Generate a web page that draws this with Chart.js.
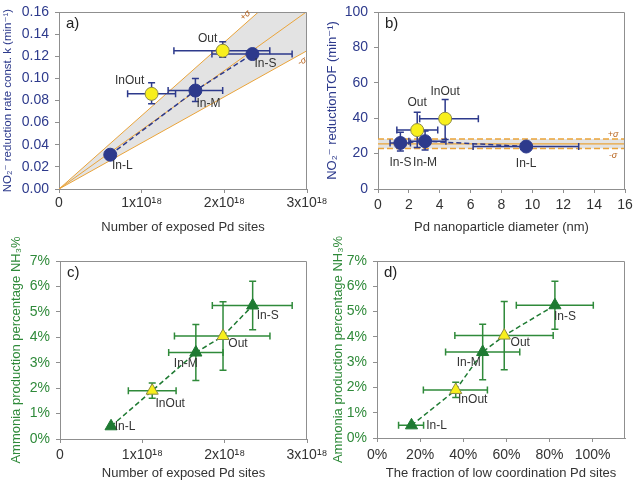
<!DOCTYPE html>
<html>
<head>
<meta charset="utf-8">
<script src="https://cdn.jsdelivr.net/npm/chart.js@4.4.1/dist/chart.umd.min.js"></script>
<style>
  body { margin: 0; background: #fff; }
  #wrap { position: relative; width: 633px; height: 483px; }
  canvas { position: absolute; left: 0; top: 0; }
</style>
</head>
<body>
<div id="wrap">
  <canvas id="chartA" width="633" height="483"></canvas>
  <canvas id="chartB" width="633" height="483"></canvas>
  <canvas id="chartC" width="633" height="483"></canvas>
  <canvas id="chartD" width="633" height="483"></canvas>
</div>
<script>
// samples, in order of exposed Pd sites
const samples = ["In-L", "InOut", "In-M", "Out", "In-S"];
const isYellow = [false, true, false, true, false];

// number of exposed Pd sites (x10^18)
const sites = [0.62, 1.12, 1.65, 1.98, 2.34];
const sitesLo = [null, 0.83, 1.32, 1.39, 1.85];
const sitesHi = [null, 1.41, 1.98, 2.55, 2.82];

// a) NO2- reduction rate constant k (min-1)
const rateK = [0.031, 0.086, 0.089, 0.125, 0.122];
const rateKLo = [null, 0.077, 0.079, 0.119, null];
const rateKHi = [null, 0.096, 0.1, 0.133, null];
// linear fits through the origin (mean, +sigma, -sigma)
const fitX = [0, 3];
const fitMid = [0, 0.1605];
const fitUp = [0, 0.199];
const fitLow = [0, 0.125];

// b) TOF vs Pd particle diameter (nm)
const diam = [9.6, 4.35, 3.05, 2.54, 1.45];
const diamLo = [6.16, 2.7, 2.0, 1.22, 0.78];
const diamHi = [13.0, 6.5, 4.4, 3.87, 2.1];
const tof = [24, 39.7, 27, 33.3, 26];
const tofLo = [null, 28, 22, 23.5, 21.4];
const tofHi = [null, 50.6, 32.7, 43.3, 32];
const bandX = [0, 16];
const tofMean = [25.5, 25.5];
const tofUp = [28.2, 28.2];
const tofLow = [22.9, 22.9];

// c/d) ammonia production percentage NH3 (%)
const nh3 = [0.5, 1.9, 3.4, 4.05, 5.25];
const nh3Lo = [null, 1.6, 2.3, 2.7, 4.3];
const nh3Hi = [null, 2.2, 4.5, 5.4, 6.2];

// d) fraction of low coordination Pd sites (%)
const lowCoord = [16, 36.5, 49, 59, 82.5];
const lowCoordLo = [10, 21.5, 31.8, 36.1, 64.6];
const lowCoordHi = [21.6, 51.2, 66.2, 81.7, 100.3];

const FONT = "'Liberation Sans', Arial, 'DejaVu Sans', sans-serif";
const NAVY = "#2d3a8c";
const GREEN = "#2f8a3a";
const DKGREEN = "#1e7a32";
const YELLOW = "#f8ef1c";
const ORANGE = "#eaa43a";
const FRAME = "#8f8f8f";
const TEXT = "#333333";

function pts(xs, ys, keep) {
  const out = [];
  xs.forEach((x, i) => { if (!keep || keep(i)) out.push({ x: x, y: ys[i] }); });
  return out.sort((a, b) => a.x - b.x);
}

function bars(xs, ys, xLo, xHi, yLo, yHi) {
  return xs.map((x, i) => ({ x: x, y: ys[i], xLo: xLo[i], xHi: xHi[i], yLo: yLo[i], yHi: yHi[i] }));
}

function axis(o) {
  return {
    type: "linear",
    position: o.position,
    min: o.min,
    max: o.max,
    afterFit(s) {
      if (o.position === "left") s.width = o.size; else s.height = o.size;
      s.paddingLeft = 0; s.paddingRight = 0; s.paddingTop = 0; s.paddingBottom = 0;
    },
    grid: { display: true, drawOnChartArea: false, drawTicks: true, tickLength: 4, color: FRAME },
    border: { display: true, color: FRAME, width: 1 },
    ticks: {
      stepSize: o.step,
      padding: o.tickPad,
      color: o.tickColor,
      font: { family: FONT, size: 14 },
      callback: o.fmt,
      maxRotation: 0,
      autoSkip: false,
      includeBounds: o.includeBounds !== false
    },
    title: { display: true, text: o.title, color: o.titleColor, font: { family: FONT, size: o.titleSize || 13 }, padding: o.titlePad }
  };
}

function drawErrorBars(chart, list, color) {
  const { ctx, scales: { x, y } } = chart;
  const cap = 3.5;
  ctx.save();
  ctx.strokeStyle = color;
  ctx.lineWidth = 1.5;
  list.forEach(b => {
    const px = x.getPixelForValue(b.x), py = y.getPixelForValue(b.y);
    ctx.beginPath();
    if (b.xLo != null) {
      const l = x.getPixelForValue(b.xLo), r = x.getPixelForValue(b.xHi);
      ctx.moveTo(l, py); ctx.lineTo(r, py);
      ctx.moveTo(l, py - cap); ctx.lineTo(l, py + cap);
      ctx.moveTo(r, py - cap); ctx.lineTo(r, py + cap);
    }
    if (b.yLo != null) {
      const t = y.getPixelForValue(b.yHi), d = y.getPixelForValue(b.yLo);
      ctx.moveTo(px, t); ctx.lineTo(px, d);
      ctx.moveTo(px - cap, t); ctx.lineTo(px + cap, t);
      ctx.moveTo(px - cap, d); ctx.lineTo(px + cap, d);
    }
    ctx.stroke();
  });
  ctx.restore();
}

function extrasPlugin(p) {
  return {
    id: "panelExtras",
    beforeDatasetDraw(chart, args) {
      if (args.index === 1) drawErrorBars(chart, p.err, p.errColor);
    },
    afterDatasetsDraw(chart) {
      const { ctx, chartArea: a, scales: { x, y } } = chart;
      ctx.save();
      // top and right frame
      ctx.strokeStyle = FRAME;
      ctx.lineWidth = 1;
      ctx.beginPath();
      ctx.moveTo(Math.round(a.left) + 0.5, Math.round(a.top) + 0.5);
      ctx.lineTo(Math.round(a.right) - 0.5, Math.round(a.top) + 0.5);
      ctx.lineTo(Math.round(a.right) - 0.5, Math.round(a.bottom) + 0.5);
      ctx.stroke();
      // panel letter
      ctx.fillStyle = "#222";
      ctx.font = "15px " + FONT;
      ctx.textAlign = "left";
      ctx.textBaseline = "middle";
      ctx.fillText(p.letter, a.left + 7, a.top + 12);
      // sample labels
      ctx.fillStyle = TEXT;
      ctx.font = "12px " + FONT;
      ctx.textAlign = "center";
      p.err.forEach((b, i) => {
        const off = p.labelOffsets[i];
        ctx.fillText(samples[i], x.getPixelForValue(b.x) + off[0], y.getPixelForValue(b.y) + off[1]);
      });
      if (p.extra) p.extra(chart, ctx);
      ctx.restore();
    }
  };
}

function sigmaText(ctx, text, px, py, angle) {
  ctx.save();
  ctx.translate(px, py);
  ctx.rotate(angle);
  ctx.fillStyle = "#b8641e";
  ctx.font = "italic 9px " + FONT;
  ctx.textAlign = "center";
  ctx.textBaseline = "middle";
  ctx.fillText(text, 0, 0);
  ctx.restore();
}

function markerSets(xs, ys, style, dark, darkBorder) {
  return [
    {
      data: pts(xs, ys, i => !isYellow[i]),
      pointStyle: style, pointRadius: style === "circle" ? 6.5 : 7,
      backgroundColor: dark, borderColor: darkBorder, borderWidth: 1
    },
    {
      data: pts(xs, ys, i => isYellow[i]),
      pointStyle: style, pointRadius: style === "circle" ? 6.5 : 7,
      backgroundColor: YELLOW, borderColor: "#8d8a45", borderWidth: 1
    }
  ];
}

function lineSet(xs, ys, color, width, dash, extra) {
  return Object.assign({
    type: "line", data: pts(xs, ys), borderColor: color, borderWidth: width,
    borderDash: dash, pointRadius: 0, fill: false, tension: 0
  }, extra || {});
}

function baseOptions(padding, xAxis, yAxis) {
  return {
    responsive: false,
    animation: false,
    events: [],
    layout: { padding: padding },
    plugins: { legend: { display: false }, tooltip: { enabled: false }, filler: { drawTime: "beforeDatasetsDraw" } },
    scales: { x: xAxis, y: yAxis }
  };
}

const sitesFmt = v => v === 0 ? "0" : v + "x10\u00b9\u2078";

// ---------- a) ----------
new Chart(document.getElementById("chartA"), {
  type: "scatter",
  data: {
    datasets: [
      ...markerSets(sites, rateK, "circle", NAVY, NAVY),
      lineSet(sites.filter((v, i) => !isYellow[i]), rateK.filter((v, i) => !isYellow[i]), NAVY, 1.5, [5, 3]),
      lineSet(fitX, fitMid, ORANGE, 1, []),
      lineSet(fitX, fitUp, ORANGE, 1, [], { fill: "+1", backgroundColor: "#e3e3e3" }),
      lineSet(fitX, fitLow, ORANGE, 1, [])
    ]
  },
  options: baseOptions({ left: 0, top: 12, right: 326, bottom: 244 },
    axis({ position: "bottom", min: 0, max: 3, step: 1, size: 50, tickPad: 2, tickColor: TEXT, fmt: sitesFmt,
      title: "Number of exposed Pd sites", titleColor: TEXT, titlePad: { top: 2, bottom: 4 } }),
    axis({ position: "left", min: 0, max: 0.16, step: 0.02, size: 59, tickPad: 6, tickColor: NAVY, fmt: v => v.toFixed(2),
      title: "NO\u2082\u207b reduction rate const. k (min\u207b\u00b9)", titleColor: NAVY, titleSize: 11.5,
      titlePad: { top: 1, bottom: 0 } })),
  plugins: [extrasPlugin({
    letter: "a)",
    err: bars(sites, rateK, sitesLo, sitesHi, rateKLo, rateKHi),
    errColor: NAVY,
    labelOffsets: [[12, 11], [-22, -13], [13, 13], [-15, -12], [13, 10]],
    extra(chart, ctx) {
      const { x, y } = chart.scales;
      const up = fitUp[1] / fitX[1], low = fitLow[1] / fitX[1];
      const yu = y.max * 0.97;
      sigmaText(ctx, "+\u03c3", x.getPixelForValue(yu / up) - 7, y.getPixelForValue(yu) - 2, -0.73);
      const xl = x.max * 0.98;
      sigmaText(ctx, "-\u03c3", x.getPixelForValue(xl), y.getPixelForValue(xl * low) + 8, -0.5);
    }
  })]
});

// ---------- b) ----------
new Chart(document.getElementById("chartB"), {
  type: "scatter",
  data: {
    datasets: [
      ...markerSets(diam, tof, "circle", NAVY, NAVY),
      lineSet(diam.filter((v, i) => !isYellow[i]), tof.filter((v, i) => !isYellow[i]), NAVY, 1.5, [5, 3]),
      lineSet(bandX, tofMean, ORANGE, 1.2, []),
      lineSet(bandX, tofUp, ORANGE, 1.5, [6, 3], { fill: "+1", backgroundColor: "#e3e3e3" }),
      lineSet(bandX, tofLow, ORANGE, 1.5, [6, 3])
    ]
  },
  options: baseOptions({ left: 313, top: 12, right: 8, bottom: 244 },
    axis({ position: "bottom", min: 0, max: 16, step: 2, size: 50, tickPad: 4, tickColor: TEXT, fmt: v => String(v),
      title: "Pd nanoparticle diameter (nm)", titleColor: TEXT, titlePad: { top: 2, bottom: 4 } }),
    axis({ position: "left", min: 0, max: 100, step: 20, size: 65, tickPad: 6, tickColor: NAVY, fmt: v => String(v),
      title: "NO\u2082\u207b reductionTOF (min\u207b\u00b9)", titleColor: NAVY, titlePad: { top: 12, bottom: 0 } })),
  plugins: [extrasPlugin({
    letter: "b)",
    err: bars(diam, tof, diamLo, diamHi, tofLo, tofHi),
    errColor: NAVY,
    labelOffsets: [[0, 17], [0, -27], [0, 21], [0, -27], [0, 20]],
    extra(chart, ctx) {
      const { x, y } = chart.scales;
      const px = x.getPixelForValue(x.max) - 12;
      sigmaText(ctx, "+\u03c3", px, y.getPixelForValue(tofUp[1]) - 5, 0);
      sigmaText(ctx, "-\u03c3", px, y.getPixelForValue(tofLow[1]) + 7, 0);
    }
  })]
});

// ---------- c) ----------
new Chart(document.getElementById("chartC"), {
  type: "scatter",
  data: {
    datasets: [
      ...markerSets(sites, nh3, "triangle", DKGREEN, DKGREEN),
      lineSet(sites, nh3, DKGREEN, 1.5, [5, 3])
    ]
  },
  options: baseOptions({ left: 0, top: 261, right: 326, bottom: 0 },
    axis({ position: "bottom", min: 0, max: 3, step: 1, size: 44, tickPad: 4, tickColor: TEXT, fmt: sitesFmt,
      title: "Number of exposed Pd sites", titleColor: TEXT, titlePad: { top: 2, bottom: 2 } }),
    axis({ position: "left", min: 0, max: 7, step: 1, size: 60, tickPad: 6, tickColor: GREEN, fmt: v => v + "%",
      title: "Ammonia production percentage NH\u2083%", titleColor: GREEN, titlePad: { top: 9, bottom: 0 } })),
  plugins: [extrasPlugin({
    letter: "c)",
    err: bars(sites, nh3, sitesLo, sitesHi, nh3Lo, nh3Hi),
    errColor: GREEN,
    labelOffsets: [[14, 0], [18, 13], [-10, 11], [15, 8], [15, 10]]
  })]
});

// ---------- d) ----------
new Chart(document.getElementById("chartD"), {
  type: "scatter",
  data: {
    datasets: [
      ...markerSets(lowCoord, nh3, "triangle", DKGREEN, DKGREEN),
      lineSet(lowCoord, nh3, DKGREEN, 1.5, [5, 3])
    ]
  },
  options: baseOptions({ left: 313, top: 261, right: 8, bottom: 0 },
    axis({ position: "bottom", min: 0, max: 115, step: 20, size: 45, tickPad: 5, tickColor: TEXT, fmt: v => v + "%",
      includeBounds: false,
      title: "The fraction of low coordination Pd sites", titleColor: TEXT, titlePad: { top: 2, bottom: 2 } }),
    axis({ position: "left", min: 0, max: 7, step: 1, size: 64, tickPad: 6, tickColor: GREEN, fmt: v => v + "%",
      title: "Ammonia production percentage NH\u2083%", titleColor: GREEN, titlePad: { top: 18, bottom: 0 } })),
  plugins: [extrasPlugin({
    letter: "d)",
    err: bars(lowCoord, nh3, lowCoordLo, lowCoordHi, nh3Lo, nh3Hi),
    errColor: GREEN,
    labelOffsets: [[25, 0], [17, 10], [-14, 11], [16, 7], [10, 11]]
  })]
});
</script>
</body>
</html>
